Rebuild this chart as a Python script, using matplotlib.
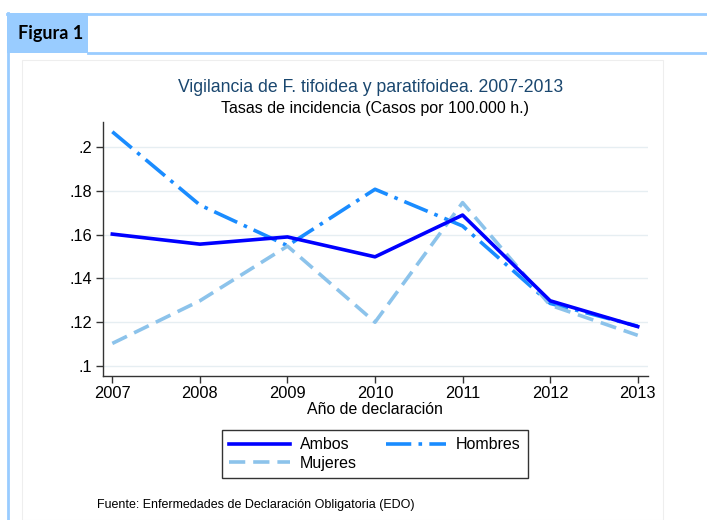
import matplotlib
matplotlib.use("Agg")
import matplotlib.pyplot as plt
from matplotlib.patches import Rectangle
from matplotlib.lines import Line2D

plt.rcParams["font.family"] = ["Liberation Sans", "DejaVu Sans"]

years = [2007, 2008, 2009, 2010, 2011, 2012, 2013]
ambos = [0.1603, 0.1557, 0.1590, 0.1499, 0.1690, 0.1298, 0.1180]
hombres = [0.2071, 0.1736, 0.1550, 0.1808, 0.1640, 0.1286, 0.1182]
mujeres = [0.1103, 0.1298, 0.1548, 0.1200, 0.1747, 0.1278, 0.1140]
yticks = [0.10, 0.12, 0.14, 0.16, 0.18, 0.20]
ytick_labels = [".1", ".12", ".14", ".16", ".18", ".2"]

W, H = 707, 520
fig = plt.figure(figsize=(W / 100, H / 100), dpi=100)
fig.patch.set_facecolor("white")

def fx(x):
    return x / W

def fy(y):
    return 1 - y / H

frame_col = "#99CCFF"
fig.add_artist(Rectangle((fx(7), fy(53)), fx(88) - fx(7), fy(13) - fy(53),
                         transform=fig.transFigure, facecolor=frame_col,
                         edgecolor="none"))
fig.add_artist(Line2D([fx(7), fx(707)], [fy(13.5), fy(13.5)], transform=fig.transFigure,
                      color=frame_col, lw=2))
fig.add_artist(Line2D([fx(88), fx(707)], [fy(53), fy(53)], transform=fig.transFigure,
                      color=frame_col, lw=2))
fig.add_artist(Line2D([fx(8), fx(8)], [fy(13), fy(520)], transform=fig.transFigure,
                      color=frame_col, lw=2))
fig.text(fx(18), fy(34), "Figura 1", fontsize=13, fontweight="bold",
         family=["Lato", "DejaVu Sans"], va="center", ha="left", color="black")
fig.add_artist(Rectangle((fx(22), fy(520)), fx(663) - fx(22), fy(60) - fy(520),
                         transform=fig.transFigure, facecolor="none",
                         edgecolor="#eeeeee", lw=0.8))

ax = fig.add_axes([fx(102.7), fy(376), fx(647.7) - fx(102.7), fy(121.7) - fy(376)])
ax.set_xlim(2006.89, 2013.114)
ax.set_ylim(0.0954, 0.2117)

l_amb, = ax.plot(years, ambos, color="#0000FF", lw=2.6, label="Ambos", zorder=4)
l_hom, = ax.plot(years, hombres, color="#1A8CFF", lw=2.6, dashes=(7, 2, 1, 2), label="Hombres", zorder=3)
l_muj, = ax.plot(years, mujeres, color="#8CC3EB", lw=2.6, dashes=(4.5, 2.2), label="Mujeres", zorder=3)

ax.set_yticks(yticks)
ax.set_yticklabels(ytick_labels)
ax.set_xticks(years)
ax.set_xticklabels([str(y) for y in years])
ax.grid(axis="y", color="#e6eef2", lw=1)
ax.set_axisbelow(True)
for s in ["top", "right"]:
    ax.spines[s].set_visible(False)
for s in ["left", "bottom"]:
    ax.spines[s].set_color("#333333")
    ax.spines[s].set_linewidth(1)
ax.tick_params(axis="both", direction="out", length=5, width=1, color="#333333",
               labelsize=11.8, pad=2.5)
ax.set_xlabel("Año de declaración", fontsize=11.4, labelpad=0.5)

fig.text(fx(371), fy(87), "Vigilancia de F. tifoidea y paratifoidea. 2007-2013",
         ha="center", va="center", fontsize=12.7, color="#1a476f")
fig.text(fx(375), fy(108), "Tasas de incidencia (Casos por 100.000 h.)",
         ha="center", va="center", fontsize=11.5, color="black")

leg = fig.legend([l_amb, l_muj, l_hom], ["Ambos", "Mujeres", "Hombres"],
                 loc="center", bbox_to_anchor=(fx(375), fy(454)), ncol=2,
                 frameon=True, fancybox=False, edgecolor="black", fontsize=11.5,
                 handlelength=3.8, handletextpad=0.6, columnspacing=1.8,
                 borderpad=0.45, labelspacing=0.2)
leg.get_frame().set_linewidth(1)

fig.text(fx(97), fy(505), "Fuente: Enfermedades de Declaración Obligatoria (EDO)",
         ha="left", va="center", fontsize=9.0)

fig.savefig("out.png", dpi=100)
